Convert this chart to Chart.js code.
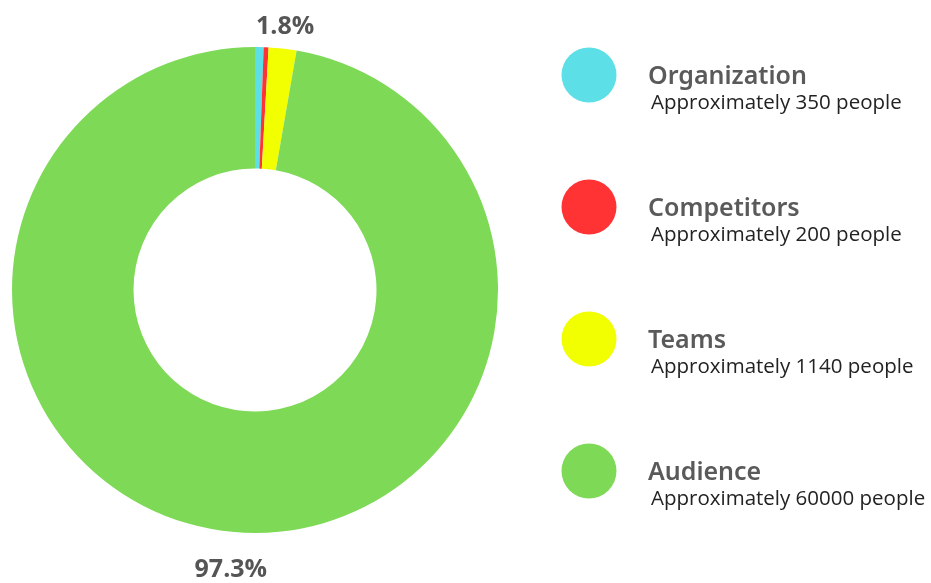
<!DOCTYPE html>
<html>
<head>
<meta charset="utf-8">
<script src="https://cdn.jsdelivr.net/npm/chart.js@4"></script>
<style>
  html, body { margin: 0; padding: 0; background: #fff; }
  #wrap { width: 931px; height: 583px; position: relative; }
</style>
</head>
<body>
<div id="wrap"><canvas id="donut"></canvas></div>
<script>
var labels = ["Organization", "Competitors", "Teams", "Audience"];
var people = [350, 200, 1140, 60000];
var notes = [
  "Approximately 350 people",
  "Approximately 200 people",
  "Approximately 1140 people",
  "Approximately 60000 people"
];
var colors = ["#5CDFE6", "#FF3334", "#F1FF00", "#7ED957"];
// only these two slices get a percentage label in the picture
var shownPct = [false, false, true, true];

var total = people.reduce(function (a, b) { return a + b; }, 0);

// percentage labels outside the ring
var pctLabels = {
  id: "pctLabels",
  afterDatasetsDraw: function (chart) {
    var ctx = chart.ctx;
    var meta = chart.getDatasetMeta(0);
    ctx.save();
    ctx.font = "bold 25px 'Open Sans'";
    ctx.fillStyle = "#555555";
    ctx.textAlign = "center";
    ctx.textBaseline = "middle";
    meta.data.forEach(function (arc, i) {
      if (!shownPct[i]) return;
      var mid = (arc.startAngle + arc.endAngle) / 2;
      var r = arc.outerRadius + (Math.sin(mid) < 0 ? 22 : 38);
      var x = arc.x + Math.cos(mid) * r;
      var y = arc.y + Math.sin(mid) * r;
      ctx.fillText((people[i] / total * 100).toFixed(1) + "%", x, y);
    });
    ctx.restore();
  }
};

// legend on the right: dot, bold name, note underneath
var sideLegend = {
  id: "sideLegend",
  afterDraw: function (chart) {
    var ctx = chart.ctx;
    ctx.save();
    labels.forEach(function (name, i) {
      var cy = 75 + i * 132;
      ctx.beginPath();
      ctx.arc(589, cy, 27.5, 0, Math.PI * 2);
      ctx.fillStyle = colors[i];
      ctx.fill();
      ctx.textAlign = "left";
      ctx.textBaseline = "alphabetic";
      ctx.fillStyle = "#5a5a5a";
      ctx.font = "600 25px 'Noto Sans'";
      ctx.fillText(name, 648, cy + 9);
      ctx.fillStyle = "#222222";
      ctx.font = "20.5px 'Open Sans'";
      ctx.fillText(notes[i], 651, cy + 34);
    });
    ctx.restore();
  }
};

new Chart(document.getElementById("donut"), {
  type: "doughnut",
  data: {
    labels: labels,
    datasets: [{
      data: people,
      backgroundColor: colors,
      borderWidth: 0
    }]
  },
  options: {
    responsive: true,
    maintainAspectRatio: false,
    animation: false,
    cutout: "50%",
    layout: {
      padding: { left: 12, right: 433, top: 47, bottom: 50 }
    },
    plugins: {
      legend: { display: false },
      tooltip: { enabled: false }
    }
  },
  plugins: [pctLabels, sideLegend]
});
</script>
</body>
</html>
